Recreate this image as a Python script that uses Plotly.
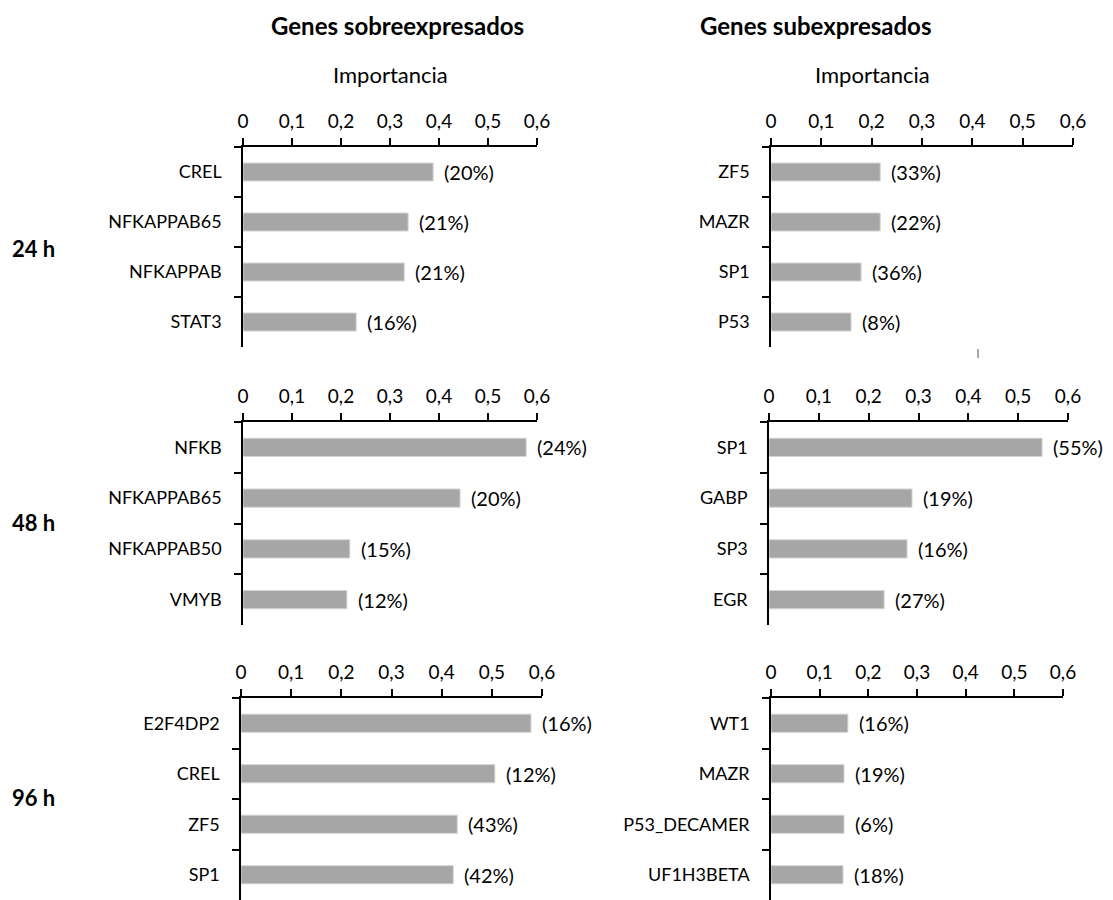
import plotly.graph_objects as go

# Data
genes_24_up = ["CREL", "NFKAPPAB65", "NFKAPPAB", "STAT3"]
imp_24_up = [0.388, 0.337, 0.329, 0.231]
pct_24_up = [20, 21, 21, 16]

genes_24_down = ["ZF5", "MAZR", "SP1", "P53"]
imp_24_down = [0.217, 0.217, 0.179, 0.159]
pct_24_down = [33, 22, 36, 8]

genes_48_up = ["NFKB", "NFKAPPAB65", "NFKAPPAB50", "VMYB"]
imp_48_up = [0.578, 0.443, 0.218, 0.212]
pct_48_up = [24, 20, 15, 12]

genes_48_down = ["SP1", "GABP", "SP3", "EGR"]
imp_48_down = [0.548, 0.287, 0.277, 0.231]
pct_48_down = [55, 19, 16, 27]

genes_96_up = ["E2F4DP2", "CREL", "ZF5", "SP1"]
imp_96_up = [0.578, 0.506, 0.431, 0.423]
pct_96_up = [16, 12, 43, 42]

genes_96_down = ["WT1", "MAZR", "P53_DECAMER", "UF1H3BETA"]
imp_96_down = [0.158, 0.150, 0.150, 0.148]
pct_96_down = [16, 19, 6, 18]

x_ticks = [0, 0.1, 0.2, 0.3, 0.4, 0.5, 0.6]
x_tick_text = ["0", "0,1", "0,2", "0,3", "0,4", "0,5", "0,6"]
row_labels = ["24 h", "48 h", "96 h"]
col_titles = ["Genes sobreexpresados", "Genes subexpresados"]

# page body has an 8px margin, so the figure is drawn 8px in
OFF = 8
W, H = 1113 - OFF, 900 - OFF
FONT = "Lato"
BAR_COLOR = "#a6a6a6"


def px(x):
    return (x - OFF) / W


def py(y):
    return 1 - (y - OFF) / H


panels = [
    (genes_24_up, imp_24_up, pct_24_up),
    (genes_24_down, imp_24_down, pct_24_down),
    (genes_48_up, imp_48_up, pct_48_up),
    (genes_48_down, imp_48_down, pct_48_down),
    (genes_96_up, imp_96_up, pct_96_up),
    (genes_96_down, imp_96_down, pct_96_down),
]

# page-pixel boxes of each plot area: (left, right, top, bottom)
boxes = [
    (243, 537, 147, 347),
    (771, 1073, 147, 347),
    (243, 537, 422, 625),
    (769, 1068, 422, 625),
    (241, 542, 698, 900),
    (771, 1063, 698, 900),
]

fig = go.Figure()
annotations = []

for i, ((genes, imp, pct), (l, r, t, b)) in enumerate(zip(panels, boxes)):
    n = "" if i == 0 else str(i + 1)
    fig.add_trace(
        go.Bar(
            x=imp,
            y=genes,
            orientation="h",
            width=0.36,
            marker=dict(color=BAR_COLOR, line=dict(color="#d4d4d4", width=1)),
            xaxis="x" + n,
            yaxis="y" + n,
            showlegend=False,
            hoverinfo="skip",
        )
    )
    for g, v, p in zip(genes, imp, pct):
        annotations.append(
            dict(
                x=v, y=g, xref="x" + n, yref="y" + n,
                text=f"({p}%)", showarrow=False,
                xanchor="left", xshift=9,
                font=dict(family=FONT, size=20, color="black"),
            )
        )
    fig.update_layout(
        {
            "xaxis" + n: dict(
                domain=[px(l), px(r)],
                anchor="y" + n,
                side="top",
                range=[0, 0.6],
                tickvals=x_ticks,
                ticktext=x_tick_text,
                ticks="outside",
                ticklen=7,
                tickwidth=1.5,
                tickcolor="black",
                showline=True,
                linecolor="black",
                linewidth=1.5,
                showgrid=False,
                zeroline=False,
                automargin=False,
                ticklabelstandoff=3,
                tickfont=dict(family=FONT, size=19, color="black"),
                fixedrange=True,
            ),
            "yaxis" + n: dict(
                domain=[py(b), py(t)],
                anchor="x" + n,
                type="category",
                autorange="reversed",
                ticks="outside",
                tickson="boundaries",
                ticklen=7,
                tickwidth=1.5,
                tickcolor="black",
                showline=True,
                linecolor="black",
                linewidth=1.5,
                showgrid=False,
                automargin=False,
                ticklabelstandoff=16,
                tickfont=dict(family=FONT, size=18, color="black"),
                fixedrange=True,
            ),
        }
    )

# column titles and axis title
for cx, title in zip([397, 933], col_titles):
    annotations.append(
        dict(x=px(cx), y=py(25), xref="paper", yref="paper", text=f"<b>{title}</b>",
             showarrow=False, yanchor="middle",
             font=dict(family=FONT, size=24, color="black"))
    )
for cx in [390, 932]:
    annotations.append(
        dict(x=px(cx), y=py(75), xref="paper", yref="paper", text="Importancia",
             showarrow=False, yanchor="middle",
             font=dict(family=FONT, size=22, color="black"))
    )

# row labels
for cy, lab in zip([248, 522, 797], row_labels):
    annotations.append(
        dict(x=px(10), y=py(cy), xref="paper", yref="paper", text=f"<b>{lab}</b>",
             showarrow=False, xanchor="left", yanchor="middle",
             font=dict(family=FONT, size=22, color="black"))
    )

fig.update_layout(
    width=W,
    height=H,
    margin=dict(l=0, r=0, t=0, b=0),
    paper_bgcolor="white",
    plot_bgcolor="white",
    annotations=annotations,
    shapes=[
        dict(type="line", xref="paper", yref="paper",
             x0=px(978), x1=px(978), y0=py(349), y1=py(358),
             line=dict(color="#555555", width=1))
    ],
)

fig.write_html("out.html")
